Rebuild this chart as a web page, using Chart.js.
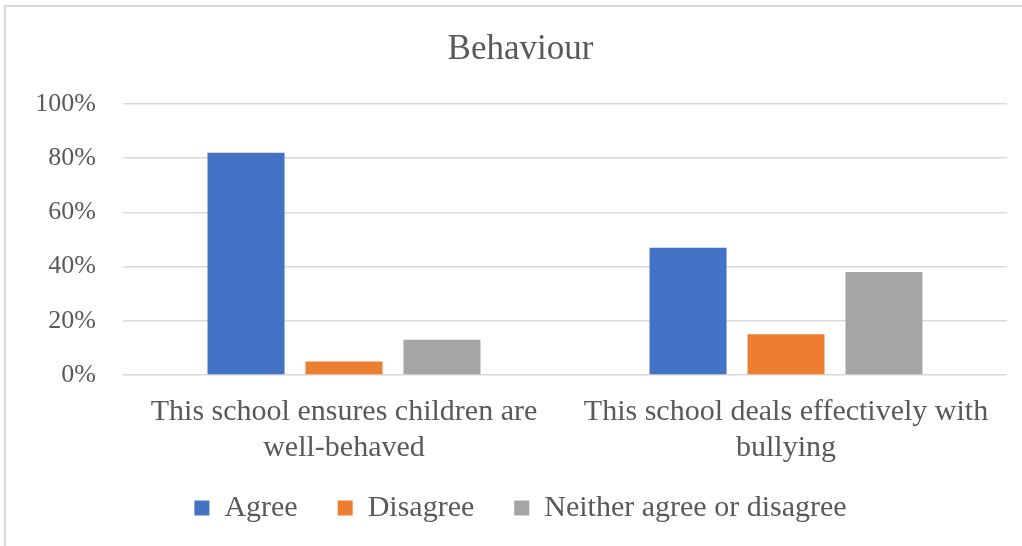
<!DOCTYPE html>
<html>
<head>
<meta charset="utf-8">
<script src="https://cdn.jsdelivr.net/npm/chart.js@4/dist/chart.umd.min.js"></script>
<style>
  body { margin: 0; background: #fff; }
  #frame { position: absolute; left: 4px; top: 5px; width: 1040px; height: 560px; border: 2px solid #d9d9d9; box-sizing: border-box; }
  #wrap { position: absolute; left: 0; top: 0; width: 1022px; height: 546px; }
</style>
</head>
<body>
<div id="frame"></div>
<div id="wrap"><canvas id="myChart"></canvas></div>
<script>
// survey data (percent)
const categories = [
    ['This school ensures children are', 'well-behaved'],
    ['This school deals effectively with', 'bullying']
];
const agree = [82, 47];
const disagree = [5, 15];
const neither = [13, 38];
const yTicks = [0, 20, 40, 60, 80, 100];

const serif = "'Liberation Serif', 'DejaVu Serif', serif";
const grey = '#595959';

// pull the legend a bit closer to the axis labels (like the original)
const legendLift = {
    id: 'legendLift',
    afterLayout(chart) {
        const lg = chart.legend;
        if (!lg) return;
        lg.top -= 13;
        lg.bottom -= 13;
    }
};

const ctx = document.getElementById('myChart');

new Chart(ctx, {
    type: 'bar',
    data: {
        labels: categories,
        datasets: [
            { label: 'Agree', data: agree, backgroundColor: '#4472C4' },
            { label: 'Disagree', data: disagree, backgroundColor: '#ED7D31' },
            { label: 'Neither agree or disagree', data: neither, backgroundColor: '#A5A5A5' }
        ]
    },
    plugins: [legendLift],
    options: {
        responsive: true,
        maintainAspectRatio: false,
        animation: false,
        categoryPercentage: 0.665,
        barPercentage: 0.786,
        layout: { padding: { left: 34, right: 15, top: 0, bottom: 0 } },
        plugins: {
            title: {
                display: true,
                text: 'Behaviour',
                color: grey,
                font: { family: serif, size: 35, weight: 'normal' },
                padding: { top: 29, bottom: 33 }
            },
            legend: {
                position: 'bottom',
                labels: {
                    color: grey,
                    font: { family: serif, size: 30 },
                    boxWidth: 15,
                    boxHeight: 15,
                    padding: 40
                }
            },
            tooltip: { enabled: false }
        },
        scales: {
            x: {
                afterFit: s => { s.height = 91; },
                grid: { display: false, drawTicks: false },
                border: { display: false },
                ticks: {
                    color: grey,
                    font: { family: serif, size: 30, lineHeight: 1.2 },
                    maxRotation: 0,
                    padding: 19
                }
            },
            y: {
                min: 0,
                max: 100,
                afterBuildTicks: s => { s.ticks = yTicks.map(v => ({ value: v })); },
                afterFit: s => { s.width = 89; },
                grid: { color: '#d9d9d9', lineWidth: 1.5, drawTicks: false },
                border: { display: false },
                ticks: {
                    color: grey,
                    font: { family: serif, size: 26 },
                    padding: 27,
                    callback: v => v + '%'
                }
            }
        }
    }
});
</script>
</body>
</html>
